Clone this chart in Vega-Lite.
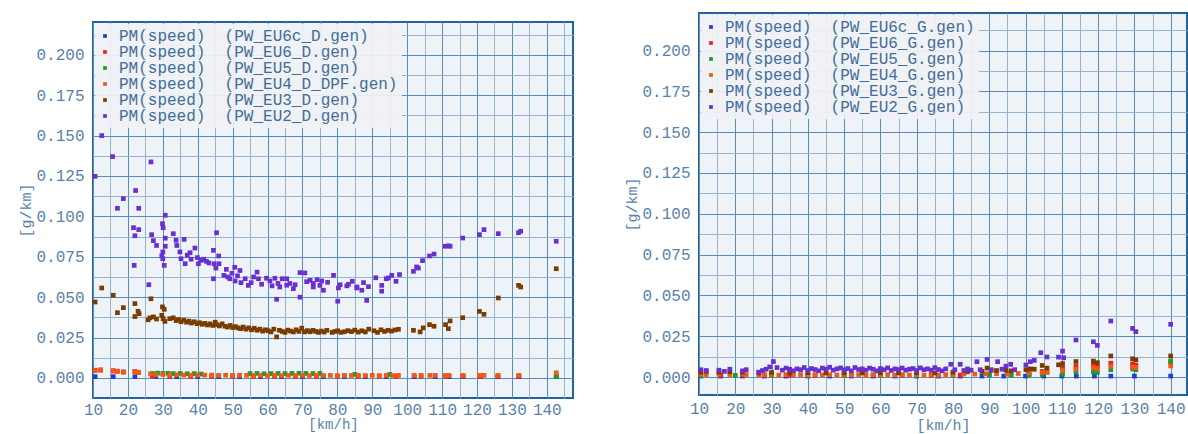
{
  "$schema": "https://vega.github.io/schema/vega-lite/v6.json",
  "background": "white",
  "padding": {"left": 17, "top": 12, "right": 0, "bottom": 0},
  "config": {
    "font": "Liberation Mono",
    "view": {"stroke": null},
    "axis": {
      "labelFont": "Liberation Mono", "labelFontSize": 16, "labelColor": "#5a82a8",
      "titleFont": "Liberation Mono", "titleFontSize": 15, "titleFontWeight": "normal", "titleColor": "#5a82a8",
      "ticks": false, "domain": false, "gridOpacity": 1, "gridWidth": 1,
      "labelFlush": false, "labelOverlap": false
    },
    "legend": {
      "orient": "top-left", "offset": 2, "padding": 4,
      "fillColor": "rgba(241,242,244,0.92)", "strokeColor": null,
      "symbolType": "square", "symbolSize": 14, "symbolOffset": -2, "symbolStrokeWidth": 0,
      "labelFont": "Liberation Mono", "labelFontSize": 16, "labelColor": "#3f6e99", "labelLimit": 0,
      "labelOffset": 6, "rowPadding": -4, "title": null
    }
  },
  "datasets": {
    "D": [
      {"s":"EU6c_D","x":10.6,"y":0.0008},{"s":"EU6c_D","x":15.8,"y":0.0008},{"s":"EU6c_D","x":22,"y":0.0008},{"s":"EU6c_D","x":28,"y":0.0008},{"s":"EU6c_D","x":34,"y":0.0008},{"s":"EU6c_D","x":40,"y":0.0008},{"s":"EU6c_D","x":46,"y":0.0008},{"s":"EU6c_D","x":52,"y":0.0008},{"s":"EU6c_D","x":58,"y":0.0008},{"s":"EU6c_D","x":64,"y":0.0008},{"s":"EU6c_D","x":70,"y":0.0008},{"s":"EU6c_D","x":76,"y":0.0008},{"s":"EU6c_D","x":82,"y":0.0008},{"s":"EU6c_D","x":88,"y":0.0008},{"s":"EU6c_D","x":94,"y":0.0008},{"s":"EU6c_D","x":102,"y":0.0008},{"s":"EU6c_D","x":108,"y":0.0008},{"s":"EU6c_D","x":112,"y":0.0008},{"s":"EU6c_D","x":116,"y":0.0008},{"s":"EU6c_D","x":121,"y":0.0008},{"s":"EU6c_D","x":126,"y":0.0008},{"s":"EU6c_D","x":132,"y":0.0008},{"s":"EU6c_D","x":142.7,"y":0.0008},
      {"s":"EU6_D","x":10.6,"y":0.0048},{"s":"EU6_D","x":12.2,"y":0.005},{"s":"EU6_D","x":15.8,"y":0.0045},{"s":"EU6_D","x":17,"y":0.0042},{"s":"EU6_D","x":18.7,"y":0.0038},{"s":"EU6_D","x":22,"y":0.004},{"s":"EU6_D","x":23,"y":0.0035},{"s":"EU6_D","x":27,"y":0.0012},{"s":"EU6_D","x":32,"y":0.001},{"s":"EU6_D","x":38,"y":0.001},{"s":"EU6_D","x":44,"y":0.001},{"s":"EU6_D","x":50,"y":0.001},{"s":"EU6_D","x":56,"y":0.001},{"s":"EU6_D","x":62,"y":0.001},{"s":"EU6_D","x":68,"y":0.001},{"s":"EU6_D","x":74,"y":0.001},{"s":"EU6_D","x":80,"y":0.001},{"s":"EU6_D","x":86,"y":0.001},{"s":"EU6_D","x":92,"y":0.001},{"s":"EU6_D","x":97,"y":0.001},{"s":"EU6_D","x":104,"y":0.001},{"s":"EU6_D","x":111,"y":0.001},{"s":"EU6_D","x":116,"y":0.001},{"s":"EU6_D","x":121,"y":0.001},{"s":"EU6_D","x":126,"y":0.001},{"s":"EU6_D","x":132,"y":0.001},{"s":"EU6_D","x":142.7,"y":0.0012},
      {"s":"EU5_D","x":27,"y":0.0028},{"s":"EU5_D","x":28.5,"y":0.003},{"s":"EU5_D","x":30,"y":0.0028},{"s":"EU5_D","x":31.5,"y":0.0029},{"s":"EU5_D","x":33,"y":0.0027},{"s":"EU5_D","x":35,"y":0.0028},{"s":"EU5_D","x":37,"y":0.0026},{"s":"EU5_D","x":39,"y":0.0027},{"s":"EU5_D","x":41,"y":0.0024},{"s":"EU5_D","x":55,"y":0.0027},{"s":"EU5_D","x":57,"y":0.0028},{"s":"EU5_D","x":59,"y":0.0026},{"s":"EU5_D","x":61,"y":0.0027},{"s":"EU5_D","x":63,"y":0.0028},{"s":"EU5_D","x":65,"y":0.0027},{"s":"EU5_D","x":67,"y":0.0028},{"s":"EU5_D","x":69,"y":0.0029},{"s":"EU5_D","x":71,"y":0.0028},{"s":"EU5_D","x":73,"y":0.0027},{"s":"EU5_D","x":75,"y":0.0028},{"s":"EU5_D","x":85,"y":0.0022},{"s":"EU5_D","x":95,"y":0.0022},{"s":"EU5_D","x":142.7,"y":0.0008},
      {"s":"EU4_D_DPF","x":10.6,"y":0.0045},{"s":"EU4_D_DPF","x":12.2,"y":0.0048},{"s":"EU4_D_DPF","x":15.8,"y":0.0042},{"s":"EU4_D_DPF","x":17,"y":0.004},{"s":"EU4_D_DPF","x":18.7,"y":0.0035},{"s":"EU4_D_DPF","x":22,"y":0.0038},{"s":"EU4_D_DPF","x":23,"y":0.0033},{"s":"EU4_D_DPF","x":26.5,"y":0.0025},{"s":"EU4_D_DPF","x":28,"y":0.002},{"s":"EU4_D_DPF","x":30,"y":0.0022},{"s":"EU4_D_DPF","x":32,"y":0.0018},{"s":"EU4_D_DPF","x":34,"y":0.002},{"s":"EU4_D_DPF","x":36,"y":0.0018},{"s":"EU4_D_DPF","x":38,"y":0.0017},{"s":"EU4_D_DPF","x":40,"y":0.0019},{"s":"EU4_D_DPF","x":42,"y":0.0017},{"s":"EU4_D_DPF","x":44,"y":0.0018},{"s":"EU4_D_DPF","x":46,"y":0.0016},{"s":"EU4_D_DPF","x":48,"y":0.0017},{"s":"EU4_D_DPF","x":50,"y":0.0016},{"s":"EU4_D_DPF","x":52,"y":0.0017},{"s":"EU4_D_DPF","x":54,"y":0.0016},{"s":"EU4_D_DPF","x":56,"y":0.0015},{"s":"EU4_D_DPF","x":58,"y":0.0016},{"s":"EU4_D_DPF","x":60,"y":0.0015},{"s":"EU4_D_DPF","x":62,"y":0.0016},{"s":"EU4_D_DPF","x":64,"y":0.0015},{"s":"EU4_D_DPF","x":66,"y":0.0016},{"s":"EU4_D_DPF","x":68,"y":0.0015},{"s":"EU4_D_DPF","x":70,"y":0.0016},{"s":"EU4_D_DPF","x":72,"y":0.0015},{"s":"EU4_D_DPF","x":74,"y":0.0016},{"s":"EU4_D_DPF","x":76,"y":0.0015},{"s":"EU4_D_DPF","x":78,"y":0.0016},{"s":"EU4_D_DPF","x":80,"y":0.0015},{"s":"EU4_D_DPF","x":82,"y":0.0016},{"s":"EU4_D_DPF","x":84,"y":0.0015},{"s":"EU4_D_DPF","x":86,"y":0.0016},{"s":"EU4_D_DPF","x":88,"y":0.0015},{"s":"EU4_D_DPF","x":90,"y":0.0016},{"s":"EU4_D_DPF","x":92,"y":0.0015},{"s":"EU4_D_DPF","x":94,"y":0.0016},{"s":"EU4_D_DPF","x":96,"y":0.0015},{"s":"EU4_D_DPF","x":97.5,"y":0.0016},{"s":"EU4_D_DPF","x":102,"y":0.0016},{"s":"EU4_D_DPF","x":104,"y":0.0016},{"s":"EU4_D_DPF","x":106.5,"y":0.0016},{"s":"EU4_D_DPF","x":108,"y":0.0016},{"s":"EU4_D_DPF","x":111,"y":0.0016},{"s":"EU4_D_DPF","x":112,"y":0.0016},{"s":"EU4_D_DPF","x":116,"y":0.0016},{"s":"EU4_D_DPF","x":120.7,"y":0.0016},{"s":"EU4_D_DPF","x":122,"y":0.0016},{"s":"EU4_D_DPF","x":126,"y":0.0016},{"s":"EU4_D_DPF","x":132,"y":0.0016},{"s":"EU4_D_DPF","x":142.7,"y":0.0032},
      {"s":"EU3_D","x":10.6,"y":0.047},{"s":"EU3_D","x":12.5,"y":0.0557},{"s":"EU3_D","x":15.8,"y":0.0512},{"s":"EU3_D","x":17,"y":0.0404},{"s":"EU3_D","x":18.7,"y":0.0435},{"s":"EU3_D","x":22,"y":0.046},{"s":"EU3_D","x":22,"y":0.038},{"s":"EU3_D","x":22.9,"y":0.0413},{"s":"EU3_D","x":23.2,"y":0.0398},{"s":"EU3_D","x":26.6,"y":0.049},{"s":"EU3_D","x":25.8,"y":0.036},{"s":"EU3_D","x":26.3,"y":0.0372},{"s":"EU3_D","x":27.3,"y":0.0378},{"s":"EU3_D","x":28.2,"y":0.0365},{"s":"EU3_D","x":29.9,"y":0.044},{"s":"EU3_D","x":30.4,"y":0.0425},{"s":"EU3_D","x":29.7,"y":0.0388},{"s":"EU3_D","x":30.1,"y":0.0367},{"s":"EU3_D","x":30.6,"y":0.035},
      {"s":"EU3_D","x":32,"y":0.0367},{"s":"EU3_D","x":33,"y":0.0372},{"s":"EU3_D","x":33.8,"y":0.0355},{"s":"EU3_D","x":34.5,"y":0.0362},{"s":"EU3_D","x":35.2,"y":0.0348},{"s":"EU3_D","x":36,"y":0.0358},{"s":"EU3_D","x":36.8,"y":0.0345},{"s":"EU3_D","x":37.5,"y":0.0352},{"s":"EU3_D","x":38.2,"y":0.034},{"s":"EU3_D","x":39,"y":0.0348},{"s":"EU3_D","x":39.8,"y":0.0336},{"s":"EU3_D","x":40.5,"y":0.0342},{"s":"EU3_D","x":41.3,"y":0.0332},{"s":"EU3_D","x":42,"y":0.0338},{"s":"EU3_D","x":42.8,"y":0.0328},{"s":"EU3_D","x":43.5,"y":0.0335},{"s":"EU3_D","x":44.3,"y":0.0325},{"s":"EU3_D","x":45,"y":0.0345},{"s":"EU3_D","x":45.5,"y":0.033},{"s":"EU3_D","x":46.2,"y":0.0322},{"s":"EU3_D","x":47,"y":0.0335},{"s":"EU3_D","x":47.8,"y":0.032},{"s":"EU3_D","x":48.5,"y":0.0315},{"s":"EU3_D","x":49.3,"y":0.0325},{"s":"EU3_D","x":50,"y":0.0312},{"s":"EU3_D","x":50.8,"y":0.0318},{"s":"EU3_D","x":51.5,"y":0.031},{"s":"EU3_D","x":52.3,"y":0.0305},{"s":"EU3_D","x":53,"y":0.0315},{"s":"EU3_D","x":53.8,"y":0.0302},{"s":"EU3_D","x":54.6,"y":0.031},{"s":"EU3_D","x":55.4,"y":0.0298},{"s":"EU3_D","x":56.2,"y":0.0308},{"s":"EU3_D","x":57,"y":0.0295},{"s":"EU3_D","x":57.8,"y":0.0302},{"s":"EU3_D","x":58.6,"y":0.029},{"s":"EU3_D","x":59.4,"y":0.0298},{"s":"EU3_D","x":60.2,"y":0.0292},{"s":"EU3_D","x":61,"y":0.0285},{"s":"EU3_D","x":61.8,"y":0.0302},{"s":"EU3_D","x":62.6,"y":0.0254},{"s":"EU3_D","x":63.4,"y":0.0295},{"s":"EU3_D","x":64.2,"y":0.0288},{"s":"EU3_D","x":65,"y":0.0282},{"s":"EU3_D","x":65.8,"y":0.0296},{"s":"EU3_D","x":66.6,"y":0.029},{"s":"EU3_D","x":67.4,"y":0.0285},{"s":"EU3_D","x":68.2,"y":0.0298},{"s":"EU3_D","x":69,"y":0.0288},{"s":"EU3_D","x":69.8,"y":0.0308},{"s":"EU3_D","x":70.6,"y":0.0285},{"s":"EU3_D","x":71.4,"y":0.0293},{"s":"EU3_D","x":72.2,"y":0.0286},{"s":"EU3_D","x":73,"y":0.0295},{"s":"EU3_D","x":73.8,"y":0.0288},{"s":"EU3_D","x":74.6,"y":0.0282},{"s":"EU3_D","x":75.4,"y":0.029},{"s":"EU3_D","x":76.2,"y":0.0284},{"s":"EU3_D","x":77,"y":0.0295},{"s":"EU3_D","x":78.5,"y":0.0282},{"s":"EU3_D","x":79.3,"y":0.0288},{"s":"EU3_D","x":80.1,"y":0.0292},{"s":"EU3_D","x":81,"y":0.0282},{"s":"EU3_D","x":82,"y":0.0286},{"s":"EU3_D","x":83,"y":0.0293},{"s":"EU3_D","x":84,"y":0.0287},{"s":"EU3_D","x":85,"y":0.0296},{"s":"EU3_D","x":86,"y":0.0284},{"s":"EU3_D","x":87,"y":0.0292},{"s":"EU3_D","x":88,"y":0.0285},{"s":"EU3_D","x":89,"y":0.0302},{"s":"EU3_D","x":90.5,"y":0.0292},{"s":"EU3_D","x":91.5,"y":0.0282},{"s":"EU3_D","x":92.5,"y":0.0298},{"s":"EU3_D","x":93.5,"y":0.0288},{"s":"EU3_D","x":94.5,"y":0.0295},{"s":"EU3_D","x":95.5,"y":0.029},{"s":"EU3_D","x":96.5,"y":0.0297},{"s":"EU3_D","x":97.5,"y":0.0301},
      {"s":"EU3_D","x":101.8,"y":0.0295},{"s":"EU3_D","x":103.7,"y":0.0285},{"s":"EU3_D","x":104.6,"y":0.031},{"s":"EU3_D","x":106.4,"y":0.033},{"s":"EU3_D","x":107.7,"y":0.032},{"s":"EU3_D","x":111,"y":0.033},{"s":"EU3_D","x":111.8,"y":0.0305},{"s":"EU3_D","x":112.3,"y":0.0353},{"s":"EU3_D","x":115.9,"y":0.0373},{"s":"EU3_D","x":120.7,"y":0.0412},{"s":"EU3_D","x":122,"y":0.0394},{"s":"EU3_D","x":126.1,"y":0.0495},{"s":"EU3_D","x":131.9,"y":0.0573},{"s":"EU3_D","x":132.5,"y":0.0563},{"s":"EU3_D","x":142.7,"y":0.0676},
      {"s":"EU2_D","x":10.6,"y":0.1248},{"s":"EU2_D","x":12.5,"y":0.15},{"s":"EU2_D","x":15.6,"y":0.137},{"s":"EU2_D","x":17,"y":0.105},{"s":"EU2_D","x":18.7,"y":0.111},{"s":"EU2_D","x":22.2,"y":0.116},{"s":"EU2_D","x":23.1,"y":0.105},{"s":"EU2_D","x":21.6,"y":0.093},{"s":"EU2_D","x":23.1,"y":0.0918},{"s":"EU2_D","x":22,"y":0.088},{"s":"EU2_D","x":21.8,"y":0.0697},{"s":"EU2_D","x":26.6,"y":0.1337},{"s":"EU2_D","x":26,"y":0.0577},{"s":"EU2_D","x":26.8,"y":0.0887},{"s":"EU2_D","x":27.3,"y":0.085},{"s":"EU2_D","x":28.2,"y":0.082},{"s":"EU2_D","x":29.9,"y":0.0955},{"s":"EU2_D","x":30.1,"y":0.093},{"s":"EU2_D","x":30.7,"y":0.1007},{"s":"EU2_D","x":30.7,"y":0.0865},{"s":"EU2_D","x":30.7,"y":0.0815},{"s":"EU2_D","x":30,"y":0.078},{"s":"EU2_D","x":29.7,"y":0.0755},{"s":"EU2_D","x":30,"y":0.0738},{"s":"EU2_D","x":30.4,"y":0.0697},
      {"s":"EU2_D","x":33,"y":0.0893},{"s":"EU2_D","x":33.8,"y":0.0852},{"s":"EU2_D","x":34,"y":0.082},{"s":"EU2_D","x":36.1,"y":0.0858},{"s":"EU2_D","x":34.9,"y":0.078},{"s":"EU2_D","x":35.2,"y":0.0738},{"s":"EU2_D","x":36.4,"y":0.0707},{"s":"EU2_D","x":37,"y":0.076},{"s":"EU2_D","x":37.8,"y":0.0775},{"s":"EU2_D","x":38.1,"y":0.0735},{"s":"EU2_D","x":39.2,"y":0.0804},{"s":"EU2_D","x":39.9,"y":0.0745},{"s":"EU2_D","x":40.2,"y":0.0707},{"s":"EU2_D","x":41,"y":0.0728},{"s":"EU2_D","x":41.7,"y":0.0735},{"s":"EU2_D","x":42.5,"y":0.0722},{"s":"EU2_D","x":43.2,"y":0.0712},{"s":"EU2_D","x":44.5,"y":0.079},{"s":"EU2_D","x":44.7,"y":0.0707},{"s":"EU2_D","x":45.4,"y":0.0899},{"s":"EU2_D","x":46,"y":0.0755},{"s":"EU2_D","x":45.2,"y":0.068},{"s":"EU2_D","x":46.1,"y":0.0707},{"s":"EU2_D","x":44.5,"y":0.0614},{"s":"EU2_D","x":47.5,"y":0.0635},{"s":"EU2_D","x":48.2,"y":0.0672},{"s":"EU2_D","x":48.6,"y":0.0625},{"s":"EU2_D","x":49.2,"y":0.0614},{"s":"EU2_D","x":49.8,"y":0.0648},{"s":"EU2_D","x":50.6,"y":0.0685},{"s":"EU2_D","x":50.7,"y":0.06},{"s":"EU2_D","x":51.4,"y":0.0632},{"s":"EU2_D","x":52.1,"y":0.0665},{"s":"EU2_D","x":52.4,"y":0.059},{"s":"EU2_D","x":53.6,"y":0.0614},{"s":"EU2_D","x":54.5,"y":0.0573},{"s":"EU2_D","x":55.3,"y":0.059},{"s":"EU2_D","x":56,"y":0.0625},{"s":"EU2_D","x":57,"y":0.0655},{"s":"EU2_D","x":57.4,"y":0.0614},{"s":"EU2_D","x":58.3,"y":0.058},{"s":"EU2_D","x":59.7,"y":0.0617},{"s":"EU2_D","x":60.7,"y":0.06},{"s":"EU2_D","x":61.3,"y":0.057},{"s":"EU2_D","x":62.1,"y":0.0617},{"s":"EU2_D","x":62.6,"y":0.0487},{"s":"EU2_D","x":63,"y":0.0585},{"s":"EU2_D","x":63.5,"y":0.0563},{"s":"EU2_D","x":64.2,"y":0.0614},{"s":"EU2_D","x":65.5,"y":0.0614},{"s":"EU2_D","x":65.5,"y":0.0574},{"s":"EU2_D","x":66.4,"y":0.0585},{"s":"EU2_D","x":67.4,"y":0.0553},{"s":"EU2_D","x":67.9,"y":0.0577},{"s":"EU2_D","x":69.3,"y":0.0652},{"s":"EU2_D","x":69.3,"y":0.05},{"s":"EU2_D","x":70.7,"y":0.065},{"s":"EU2_D","x":71.2,"y":0.0596},{"s":"EU2_D","x":72.2,"y":0.0604},{"s":"EU2_D","x":73.1,"y":0.0585},{"s":"EU2_D","x":73.1,"y":0.0563},{"s":"EU2_D","x":74.2,"y":0.0608},{"s":"EU2_D","x":75,"y":0.0573},{"s":"EU2_D","x":75.5,"y":0.06},{"s":"EU2_D","x":76,"y":0.0543},{"s":"EU2_D","x":77.2,"y":0.0592},{"s":"EU2_D","x":78.9,"y":0.0635},{"s":"EU2_D","x":80.1,"y":0.0475},{"s":"EU2_D","x":80.3,"y":0.0557},{"s":"EU2_D","x":80.8,"y":0.0577},{"s":"EU2_D","x":82.7,"y":0.057},{"s":"EU2_D","x":83.2,"y":0.058},{"s":"EU2_D","x":84.3,"y":0.0598},{"s":"EU2_D","x":85.6,"y":0.0563},{"s":"EU2_D","x":85.6,"y":0.0557},{"s":"EU2_D","x":87,"y":0.0543},{"s":"EU2_D","x":87.5,"y":0.059},{"s":"EU2_D","x":88.4,"y":0.048},{"s":"EU2_D","x":88.9,"y":0.0565},{"s":"EU2_D","x":91,"y":0.062},{"s":"EU2_D","x":92.7,"y":0.0573},{"s":"EU2_D","x":92.7,"y":0.0537},{"s":"EU2_D","x":94,"y":0.0614},{"s":"EU2_D","x":94.6,"y":0.0619},{"s":"EU2_D","x":95.6,"y":0.0635},{"s":"EU2_D","x":96.8,"y":0.0598},{"s":"EU2_D","x":97.8,"y":0.064},
      {"s":"EU2_D","x":101.8,"y":0.066},{"s":"EU2_D","x":102.7,"y":0.0687},{"s":"EU2_D","x":103.2,"y":0.068},{"s":"EU2_D","x":104.4,"y":0.0726},{"s":"EU2_D","x":106.4,"y":0.0755},{"s":"EU2_D","x":107.7,"y":0.0767},{"s":"EU2_D","x":110.9,"y":0.0815},{"s":"EU2_D","x":111.8,"y":0.0818},{"s":"EU2_D","x":112.3,"y":0.0815},{"s":"EU2_D","x":115.9,"y":0.0866},{"s":"EU2_D","x":120.7,"y":0.0887},{"s":"EU2_D","x":122,"y":0.0918},{"s":"EU2_D","x":126.1,"y":0.0893},{"s":"EU2_D","x":131.9,"y":0.0899},{"s":"EU2_D","x":132.5,"y":0.0908},{"s":"EU2_D","x":142.7,"y":0.0846}
    ],
    "G": [
      {"s":"EU6c_G","x":10.5,"y":0.0006},{"s":"EU6c_G","x":16,"y":0.0006},{"s":"EU6c_G","x":22,"y":0.0006},{"s":"EU6c_G","x":28,"y":0.0006},{"s":"EU6c_G","x":34,"y":0.0006},{"s":"EU6c_G","x":40,"y":0.0006},{"s":"EU6c_G","x":46,"y":0.0006},{"s":"EU6c_G","x":52,"y":0.0006},{"s":"EU6c_G","x":58,"y":0.0006},{"s":"EU6c_G","x":64,"y":0.0006},{"s":"EU6c_G","x":70,"y":0.0006},{"s":"EU6c_G","x":76,"y":0.0006},{"s":"EU6c_G","x":82,"y":0.0006},{"s":"EU6c_G","x":88,"y":0.0006},{"s":"EU6c_G","x":94,"y":0.0006},{"s":"EU6c_G","x":100,"y":0.0006},{"s":"EU6c_G","x":105,"y":0.0006},{"s":"EU6c_G","x":110,"y":0.0006},{"s":"EU6c_G","x":114,"y":0.0006},{"s":"EU6c_G","x":119,"y":0.0006},{"s":"EU6c_G","x":123.5,"y":0.0006},{"s":"EU6c_G","x":130,"y":0.0006},{"s":"EU6c_G","x":140,"y":0.0006},
      {"s":"EU6_G","x":10.5,"y":0.0015},{"s":"EU6_G","x":16,"y":0.0012},{"s":"EU6_G","x":22,"y":0.0012},{"s":"EU6_G","x":28,"y":0.001},{"s":"EU6_G","x":35,"y":0.001},{"s":"EU6_G","x":42,"y":0.001},{"s":"EU6_G","x":50,"y":0.001},{"s":"EU6_G","x":58,"y":0.001},{"s":"EU6_G","x":66,"y":0.001},{"s":"EU6_G","x":74,"y":0.001},{"s":"EU6_G","x":82,"y":0.0012},{"s":"EU6_G","x":90,"y":0.0015},{"s":"EU6_G","x":96,"y":0.0015},{"s":"EU6_G","x":101,"y":0.002},{"s":"EU6_G","x":104.6,"y":0.0035},{"s":"EU6_G","x":110.2,"y":0.0055},{"s":"EU6_G","x":113.9,"y":0.0065},{"s":"EU6_G","x":118.7,"y":0.0075},{"s":"EU6_G","x":119.8,"y":0.0068},{"s":"EU6_G","x":123.5,"y":0.0085},{"s":"EU6_G","x":129.5,"y":0.008},{"s":"EU6_G","x":130.4,"y":0.0072},{"s":"EU6_G","x":140,"y":0.0088},
      {"s":"EU5_G","x":10.5,"y":0.001},{"s":"EU5_G","x":20,"y":0.001},{"s":"EU5_G","x":30,"y":0.001},{"s":"EU5_G","x":40,"y":0.001},{"s":"EU5_G","x":50,"y":0.001},{"s":"EU5_G","x":60,"y":0.001},{"s":"EU5_G","x":70,"y":0.001},{"s":"EU5_G","x":80,"y":0.001},{"s":"EU5_G","x":90,"y":0.0012},{"s":"EU5_G","x":96,"y":0.0012},{"s":"EU5_G","x":101,"y":0.0012},{"s":"EU5_G","x":104.6,"y":0.0015},{"s":"EU5_G","x":110.2,"y":0.0018},{"s":"EU5_G","x":113.9,"y":0.003},{"s":"EU5_G","x":118.7,"y":0.0032},{"s":"EU5_G","x":119.8,"y":0.0028},{"s":"EU5_G","x":123.5,"y":0.0045},{"s":"EU5_G","x":129.5,"y":0.005},{"s":"EU5_G","x":130.4,"y":0.0045},{"s":"EU5_G","x":140,"y":0.0098},
      {"s":"EU4_G","x":10.5,"y":0.0018},{"s":"EU4_G","x":12,"y":0.0015},{"s":"EU4_G","x":15.5,"y":0.0018},{"s":"EU4_G","x":18.5,"y":0.0015},{"s":"EU4_G","x":22,"y":0.0018},{"s":"EU4_G","x":23,"y":0.0015},{"s":"EU4_G","x":26.5,"y":0.0012},{"s":"EU4_G","x":28,"y":0.0015},{"s":"EU4_G","x":30,"y":0.0015},{"s":"EU4_G","x":32,"y":0.0012},{"s":"EU4_G","x":34,"y":0.0015},{"s":"EU4_G","x":36,"y":0.0012},{"s":"EU4_G","x":38,"y":0.0015},{"s":"EU4_G","x":40,"y":0.0012},{"s":"EU4_G","x":42,"y":0.0015},{"s":"EU4_G","x":44,"y":0.0012},{"s":"EU4_G","x":46,"y":0.0015},{"s":"EU4_G","x":48,"y":0.0012},{"s":"EU4_G","x":50,"y":0.0015},{"s":"EU4_G","x":52,"y":0.0012},{"s":"EU4_G","x":54,"y":0.0015},{"s":"EU4_G","x":56,"y":0.0012},{"s":"EU4_G","x":58,"y":0.0015},{"s":"EU4_G","x":60,"y":0.0012},{"s":"EU4_G","x":62,"y":0.0015},{"s":"EU4_G","x":64,"y":0.0012},{"s":"EU4_G","x":66,"y":0.0015},{"s":"EU4_G","x":68,"y":0.0012},{"s":"EU4_G","x":70,"y":0.0015},{"s":"EU4_G","x":72,"y":0.0012},{"s":"EU4_G","x":74,"y":0.0015},{"s":"EU4_G","x":76,"y":0.0012},{"s":"EU4_G","x":78,"y":0.0015},{"s":"EU4_G","x":80,"y":0.0015},{"s":"EU4_G","x":83,"y":0.0018},{"s":"EU4_G","x":86,"y":0.0018},{"s":"EU4_G","x":89,"y":0.002},{"s":"EU4_G","x":92,"y":0.002},{"s":"EU4_G","x":95,"y":0.002},{"s":"EU4_G","x":98,"y":0.0022},{"s":"EU4_G","x":101,"y":0.0025},{"s":"EU4_G","x":104.6,"y":0.003},{"s":"EU4_G","x":106,"y":0.0028},{"s":"EU4_G","x":110.2,"y":0.004},{"s":"EU4_G","x":113.9,"y":0.0048},{"s":"EU4_G","x":118.7,"y":0.0058},{"s":"EU4_G","x":119.8,"y":0.005},{"s":"EU4_G","x":123.5,"y":0.0065},{"s":"EU4_G","x":129.5,"y":0.006},{"s":"EU4_G","x":130.4,"y":0.0058},{"s":"EU4_G","x":140,"y":0.0068},
      {"s":"EU3_G","x":10.5,"y":0.003},{"s":"EU3_G","x":12,"y":0.0035},{"s":"EU3_G","x":15.5,"y":0.003},{"s":"EU3_G","x":18.5,"y":0.0032},{"s":"EU3_G","x":22,"y":0.003},{"s":"EU3_G","x":26.5,"y":0.0025},{"s":"EU3_G","x":30,"y":0.0028},{"s":"EU3_G","x":35,"y":0.0025},{"s":"EU3_G","x":40,"y":0.0027},{"s":"EU3_G","x":45,"y":0.0025},{"s":"EU3_G","x":50,"y":0.0026},{"s":"EU3_G","x":55,"y":0.0025},{"s":"EU3_G","x":60,"y":0.0026},{"s":"EU3_G","x":65,"y":0.0025},{"s":"EU3_G","x":70,"y":0.0026},{"s":"EU3_G","x":75,"y":0.0025},{"s":"EU3_G","x":80,"y":0.003},{"s":"EU3_G","x":84,"y":0.0032},{"s":"EU3_G","x":88,"y":0.0035},{"s":"EU3_G","x":89.4,"y":0.0055},{"s":"EU3_G","x":90.5,"y":0.0045},{"s":"EU3_G","x":92,"y":0.004},{"s":"EU3_G","x":94.6,"y":0.0042},{"s":"EU3_G","x":96,"y":0.0038},{"s":"EU3_G","x":100.1,"y":0.0045},{"s":"EU3_G","x":101.3,"y":0.005},{"s":"EU3_G","x":102.4,"y":0.0048},{"s":"EU3_G","x":104.6,"y":0.0071},{"s":"EU3_G","x":105.9,"y":0.0055},{"s":"EU3_G","x":109.1,"y":0.0075},{"s":"EU3_G","x":110.2,"y":0.0082},{"s":"EU3_G","x":113.9,"y":0.0095},{"s":"EU3_G","x":118.7,"y":0.0098},{"s":"EU3_G","x":119.8,"y":0.0088},{"s":"EU3_G","x":123.5,"y":0.0129},{"s":"EU3_G","x":129.5,"y":0.0112},{"s":"EU3_G","x":130.4,"y":0.0105},{"s":"EU3_G","x":140,"y":0.0129},
      {"s":"EU2_G","x":10.5,"y":0.0045},{"s":"EU2_G","x":12,"y":0.004},{"s":"EU2_G","x":15.5,"y":0.0042},{"s":"EU2_G","x":17,"y":0.0035},{"s":"EU2_G","x":18.5,"y":0.0048},{"s":"EU2_G","x":22,"y":0.0038},{"s":"EU2_G","x":23,"y":0.0045},{"s":"EU2_G","x":26.5,"y":0.003},{"s":"EU2_G","x":27.5,"y":0.004},{"s":"EU2_G","x":28.5,"y":0.0048},{"s":"EU2_G","x":29.5,"y":0.0062},{"s":"EU2_G","x":30.5,"y":0.0095},{"s":"EU2_G","x":31.5,"y":0.0058},{"s":"EU2_G","x":33,"y":0.0042},{"s":"EU2_G","x":34,"y":0.0055},{"s":"EU2_G","x":35,"y":0.0048},{"s":"EU2_G","x":36,"y":0.0038},{"s":"EU2_G","x":37,"y":0.005},{"s":"EU2_G","x":38,"y":0.0045},{"s":"EU2_G","x":39,"y":0.0058},{"s":"EU2_G","x":40,"y":0.004},{"s":"EU2_G","x":41,"y":0.0052},{"s":"EU2_G","x":42,"y":0.0046},{"s":"EU2_G","x":43,"y":0.0038},{"s":"EU2_G","x":44,"y":0.0055},{"s":"EU2_G","x":45,"y":0.0048},{"s":"EU2_G","x":46,"y":0.006},{"s":"EU2_G","x":47,"y":0.0042},{"s":"EU2_G","x":48,"y":0.005},{"s":"EU2_G","x":49,"y":0.0056},{"s":"EU2_G","x":50,"y":0.0044},{"s":"EU2_G","x":51,"y":0.0052},{"s":"EU2_G","x":52,"y":0.0038},{"s":"EU2_G","x":53,"y":0.0058},{"s":"EU2_G","x":54,"y":0.0046},{"s":"EU2_G","x":55,"y":0.005},{"s":"EU2_G","x":56,"y":0.0042},{"s":"EU2_G","x":57,"y":0.0055},{"s":"EU2_G","x":58,"y":0.0048},{"s":"EU2_G","x":59,"y":0.0038},{"s":"EU2_G","x":60,"y":0.0052},{"s":"EU2_G","x":61,"y":0.0045},{"s":"EU2_G","x":62,"y":0.0056},{"s":"EU2_G","x":63,"y":0.004},{"s":"EU2_G","x":64,"y":0.005},{"s":"EU2_G","x":65,"y":0.0046},{"s":"EU2_G","x":66,"y":0.0055},{"s":"EU2_G","x":67,"y":0.0042},{"s":"EU2_G","x":68,"y":0.0048},{"s":"EU2_G","x":69,"y":0.0052},{"s":"EU2_G","x":70,"y":0.004},{"s":"EU2_G","x":71,"y":0.0056},{"s":"EU2_G","x":72,"y":0.0045},{"s":"EU2_G","x":73,"y":0.005},{"s":"EU2_G","x":74,"y":0.0042},{"s":"EU2_G","x":75,"y":0.0058},{"s":"EU2_G","x":76,"y":0.0046},{"s":"EU2_G","x":77,"y":0.0038},{"s":"EU2_G","x":78,"y":0.005},{"s":"EU2_G","x":79.4,"y":0.0078},{"s":"EU2_G","x":80.5,"y":0.0045},{"s":"EU2_G","x":82,"y":0.0078},{"s":"EU2_G","x":83,"y":0.004},{"s":"EU2_G","x":84,"y":0.005},{"s":"EU2_G","x":85,"y":0.0042},{"s":"EU2_G","x":86.6,"y":0.0094},{"s":"EU2_G","x":87.5,"y":0.0045},{"s":"EU2_G","x":89.4,"y":0.0108},{"s":"EU2_G","x":90.5,"y":0.004},{"s":"EU2_G","x":92.3,"y":0.0094},{"s":"EU2_G","x":93.5,"y":0.0048},{"s":"EU2_G","x":94.6,"y":0.0067},{"s":"EU2_G","x":95.9,"y":0.0078},{"s":"EU2_G","x":97,"y":0.0045},{"s":"EU2_G","x":100.1,"y":0.0074},{"s":"EU2_G","x":101.3,"y":0.0094},{"s":"EU2_G","x":102.4,"y":0.0102},{"s":"EU2_G","x":104.2,"y":0.0149},{"s":"EU2_G","x":105.9,"y":0.0123},{"s":"EU2_G","x":109.1,"y":0.0122},{"s":"EU2_G","x":110.2,"y":0.0159},{"s":"EU2_G","x":110.5,"y":0.0118},{"s":"EU2_G","x":113.9,"y":0.0227},{"s":"EU2_G","x":118.7,"y":0.0216},{"s":"EU2_G","x":119.8,"y":0.0194},{"s":"EU2_G","x":123.5,"y":0.0343},{"s":"EU2_G","x":129.5,"y":0.0298},{"s":"EU2_G","x":130.4,"y":0.0278},{"s":"EU2_G","x":140,"y":0.0323}
    ]
  },
  "spacing": 49,
  "resolve": {
    "scale": {"x": "independent", "y": "independent", "color": "independent"},
    "axis": {"x": "independent", "y": "independent"},
    "legend": {"color": "independent"}
  },
  "hconcat": [
    {
      "spacing": 7,
      "resolve": {
        "scale": {"x": "independent", "y": "independent", "color": "independent"},
        "legend": {"color": "independent"}
      },
      "vconcat": [
        {
          "width": 300, "height": 1,
          "data": {"values": [{"a": 1}]},
          "mark": {"type": "point", "opacity": 0, "size": 0, "strokeWidth": 0},
          "view": {"stroke": null}
        },
        {
          "width": 480, "height": 376,
          "data": {"name": "D"},
          "view": {"fill": "#eef3f8", "stroke": "#22649a", "strokeWidth": 2},
          "mark": {"type": "point", "shape": "square", "filled": true, "size": 22, "opacity": 1, "strokeWidth": 0},
          "encoding": {
            "x": {"field": "x", "type": "quantitative", "title": "[km/h]",
              "scale": {"domain": [10, 147.5], "nice": false, "zero": false},
              "axis": {"values": [10,15,20,25,30,35,40,45,50,55,60,65,70,75,80,85,90,95,100,105,110,115,120,125,130,135,140,145],
                "labelExpr": "datum.value % 10 == 0 ? datum.label : ''",
                "gridColor": {"condition": {"test": "datum.value % 10 == 0", "value": "#5b8cb8"}, "value": "#93b4d3"},
                "labelPadding": 3, "titlePadding": 0, "titleFontSize": 14}},
            "y": {"field": "y", "type": "quantitative", "title": "[g/km]",
              "scale": {"domain": [-0.0124, 0.2203], "nice": false, "zero": false},
              "axis": {"values": [0,0.0125,0.025,0.0375,0.05,0.0625,0.075,0.0875,0.1,0.1125,0.125,0.1375,0.15,0.1625,0.175,0.1875,0.2,0.2125],
                "labelExpr": "round(datum.value*10000) % 250 == 0 ? format(datum.value, '.3f') : ''",
                "gridColor": {"condition": {"test": "round(datum.value*10000) % 250 == 0", "value": "#5b8cb8"}, "value": "#93b4d3"},
                "labelPadding": 9, "minExtent": 57, "maxExtent": 57, "titlePadding": 3}},
            "color": {"field": "s", "type": "nominal",
              "scale": {"domain": ["EU6c_D","EU6_D","EU5_D","EU4_D_DPF","EU3_D","EU2_D"],
                "range": ["#1f3fd0","#e8202a","#1d9a2c","#f05a14","#7a3d00","#6a2fd0"]},
              "legend": {"labelExpr": "'PM(speed)\u00a0 (PW_' + datum.label + '.gen)'"}}
          }
        }
      ]
    },
    {
      "width": 488, "height": 382,
      "data": {"name": "G"},
      "view": {"fill": "#eef3f8", "stroke": "#22649a", "strokeWidth": 2},
      "mark": {"type": "point", "shape": "square", "filled": true, "size": 22, "opacity": 1, "strokeWidth": 0},
      "encoding": {
        "x": {"field": "x", "type": "quantitative", "title": "[km/h]",
          "scale": {"domain": [10, 144.5], "nice": false, "zero": false},
          "axis": {"values": [10,15,20,25,30,35,40,45,50,55,60,65,70,75,80,85,90,95,100,105,110,115,120,125,130,135,140],
            "labelExpr": "datum.value % 10 == 0 ? datum.label : ''",
            "gridColor": {"condition": {"test": "datum.value % 10 == 0", "value": "#5b8cb8"}, "value": "#93b4d3"},
            "labelPadding": 5, "titlePadding": 1}},
        "y": {"field": "y", "type": "quantitative", "title": "[g/km]",
          "scale": {"domain": [-0.011, 0.223], "nice": false, "zero": false},
          "axis": {"values": [0,0.0125,0.025,0.0375,0.05,0.0625,0.075,0.0875,0.1,0.1125,0.125,0.1375,0.15,0.1625,0.175,0.1875,0.2,0.2125],
            "labelExpr": "round(datum.value*10000) % 250 == 0 ? format(datum.value, '.3f') : ''",
            "gridColor": {"condition": {"test": "round(datum.value*10000) % 250 == 0", "value": "#5b8cb8"}, "value": "#93b4d3"},
            "labelPadding": 9, "minExtent": 57, "maxExtent": 57, "titlePadding": 3}},
        "color": {"field": "s", "type": "nominal",
          "scale": {"domain": ["EU6c_G","EU6_G","EU5_G","EU4_G","EU3_G","EU2_G"],
            "range": ["#1f3fd0","#e8202a","#1d9a2c","#f05a14","#7a3d00","#6a2fd0"]},
          "legend": {"labelExpr": "'PM(speed)\u00a0 (PW_' + datum.label + '.gen)'"}}
      }
    }
  ]
}
